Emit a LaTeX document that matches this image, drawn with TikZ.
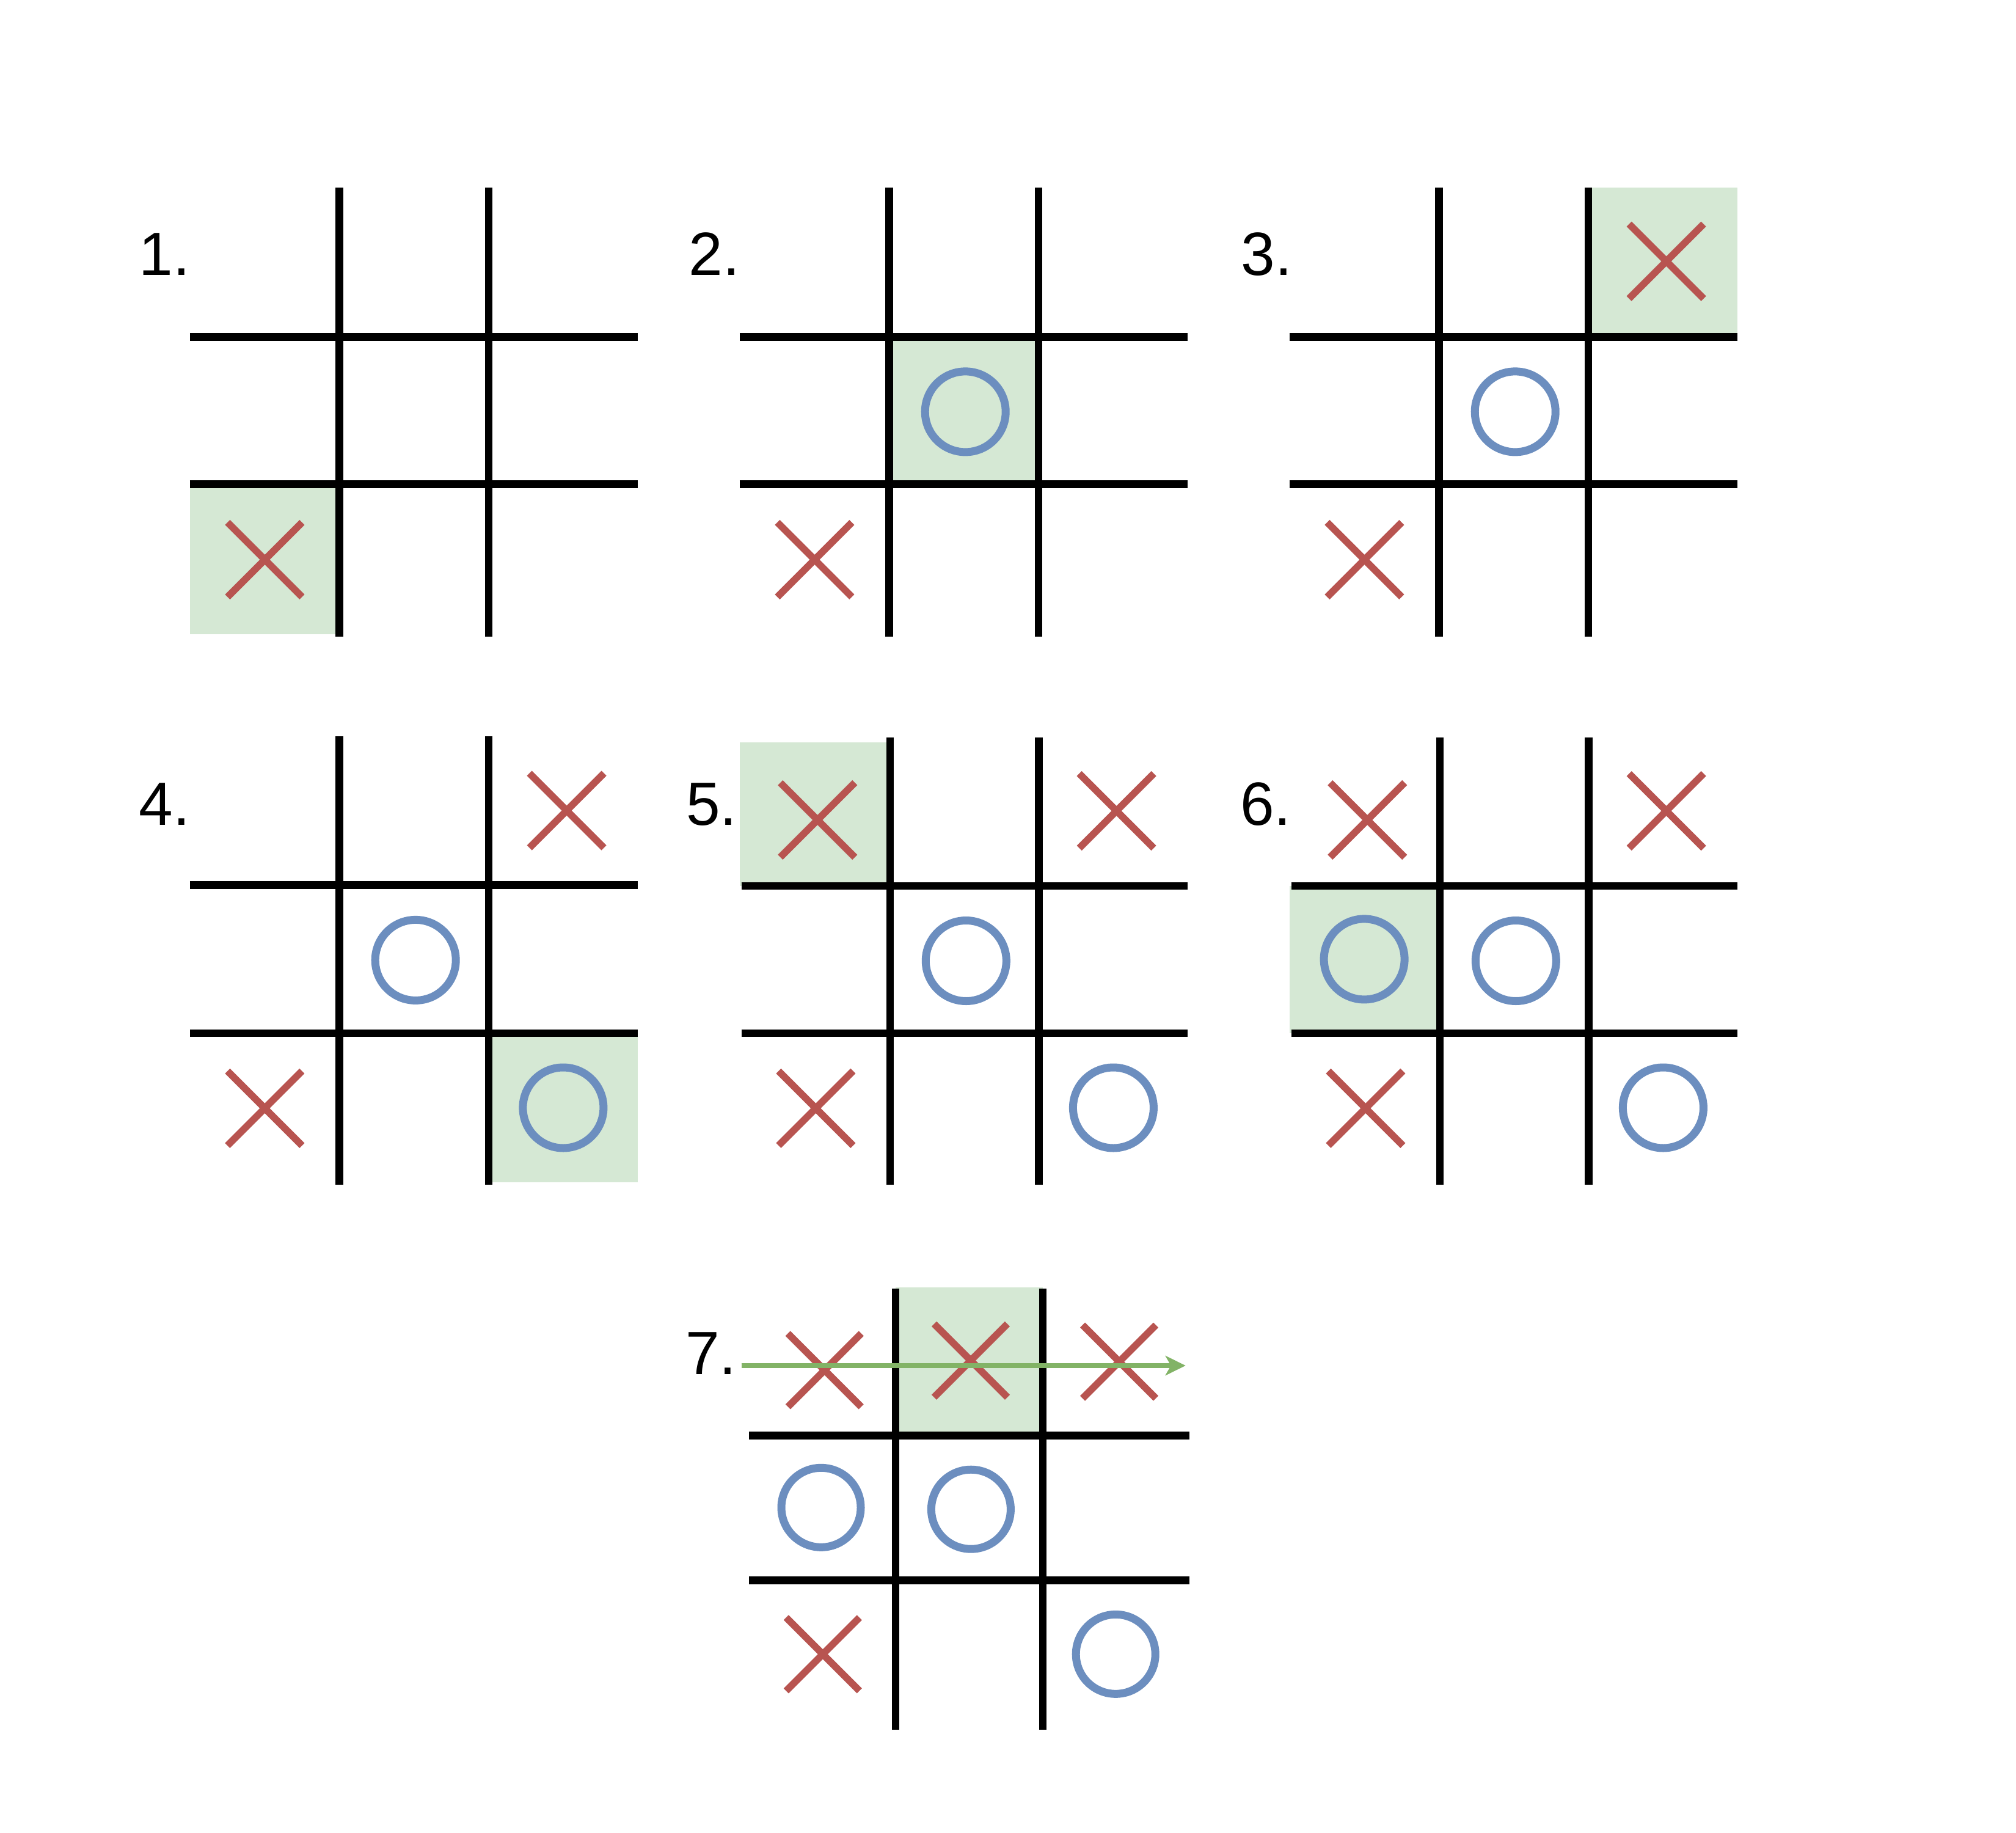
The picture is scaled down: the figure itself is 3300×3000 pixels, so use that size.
\documentclass[tikz,border=0pt]{standalone}
\usepackage{fontspec}
\setmainfont{Liberation Sans}
\usetikzlibrary{arrows.meta,shapes.misc}
\definecolor{xred}{HTML}{B85450}
\definecolor{oblue}{HTML}{6C8EBF}
\definecolor{gfill}{HTML}{D5E8D4}
\definecolor{garrow}{HTML}{82B366}
\tikzset{
  gridline/.style={draw=black, line width=1.25mm, line cap=butt},
  gcell/.style={fill=gfill},
  xmk/.style={cross out, draw=xred, line width=1.15mm, minimum size=12.2mm, inner sep=0pt, outer sep=0pt},
  xmks/.style={xmk, minimum size=12mm},
  omk/.style={circle, draw=oblue, line width=1.3mm, minimum size=13.2mm, inner sep=0pt},
  omks/.style={omk, minimum size=13mm},
  lbl/.style={inner sep=0pt, outer sep=0pt, font=\fontsize{28.45}{34}\selectfont, anchor=base east},
  winarrow/.style={draw=garrow, line width=0.75mm, -{Stealth[length=3.3mm, width=3.2mm, inset=0.9mm]}}
}
% L V1 V2 R T H1 H2 B
\newcommand{\tttboard}[8]{%
  \draw[gridline] (#2,#5) -- (#2,#8);
  \draw[gridline] (#3,#5) -- (#3,#8);
  \draw[gridline] (#1,#6) -- (#4,#6);
  \draw[gridline] (#1,#7) -- (#4,#7);
}
\begin{document}
\begin{tikzpicture}[x=0.1mm, y=-0.1mm]
\useasboundingbox (0,0) rectangle (3300,3000);
\fill[white] (0,0) rectangle (3300,3000);

% green highlight cells
\fill[gcell] (310.8,792.5) rectangle (555.3,1038);
\fill[gcell] (1455.3,551.4) rectangle (1699.9,792.5);
\fill[gcell] (2599.9,307.4) rectangle (2843.9,551.4);
\fill[gcell] (799.9,1690.8) rectangle (1043.9,1935.3);
\fill[gcell] (1210.8,1215) rectangle (1457,1450.2);
\fill[gcell] (2110.8,1450.2) rectangle (2357,1690.8);
\fill[gcell] (1466.2,2107.4) rectangle (1706.8,2349.7);

% grids
\tttboard{310.8}{555.3}{799.9}{1043.9}{307.4}{551.4}{792.5}{1042.2}
\tttboard{1210.8}{1455.3}{1699.9}{1943.9}{307.4}{551.4}{792.5}{1042.2}
\tttboard{2110.8}{2355.3}{2599.9}{2843.9}{307.4}{551.4}{792.5}{1042.2}
\tttboard{310.8}{555.3}{799.9}{1043.9}{1204.5}{1448.5}{1690.8}{1939.3}
\tttboard{1213.7}{1457}{1700.5}{1943.9}{1207.4}{1450.2}{1690.8}{1939.3}
\tttboard{2113.7}{2357}{2600.5}{2843.9}{1207.4}{1450.2}{1690.8}{1939.3}
\tttboard{1226.3}{1466.2}{1706.8}{1946.7}{2109.1}{2349.7}{2586.7}{2830.7}

% labels
\node[lbl] (l1) at (311,450.9) {1.};
\node[lbl] (l2) at (1211,450.9) {2.};
\node[lbl] (l3) at (2115,450.9) {3.};
\node[lbl] (l4) at (311,1350.9) {4.};
\node[lbl] (l5) at (1206.6,1350.9) {5.};
\node[lbl] (l6) at (2113.5,1350.9) {6.};
\node[lbl] (l7) at (1205.4,2249.8) {7.};

% board 1
\node[xmk] (b1x1) at (433.4,916) {};
% board 2
\node[xmk] (b2x1) at (1333.4,916) {};
\node[omk] (b2o1) at (1580.2,673.9) {};
% board 3
\node[xmk] (b3x1) at (2233.4,916) {};
\node[omk] (b3o1) at (2480.2,673.9) {};
\node[xmk] (b3x2) at (2727.6,427.7) {};
% board 4
\node[xmk] (b4x1) at (433.4,1813.9) {};
\node[xmk] (b4x2) at (927.6,1326.6) {};
\node[omk] (b4o1) at (680.2,1571.4) {};
\node[omk] (b4o2) at (921.9,1813) {};
% board 5
\node[xmk] (b5x1) at (1335.4,1813.9) {};
\node[xmk] (b5x2) at (1827.6,1327.1) {};
\node[xmk] (b5x3) at (1338.3,1342) {};
\node[omk] (b5o1) at (1581.3,1572.5) {};
\node[omk] (b5o2) at (1822.4,1813) {};
% board 6
\node[xmk] (b6x1) at (2235.4,1813.9) {};
\node[xmk] (b6x2) at (2727.6,1327.1) {};
\node[xmk] (b6x3) at (2238.3,1342) {};
\node[omk] (b6o1) at (2481.3,1572.5) {};
\node[omk] (b6o2) at (2722.4,1813) {};
\node[omk] (b6o3) at (2233.1,1569.9) {};
% board 7
\node[xmks] (b7x1) at (1346.8,2707.3) {};
\node[xmks] (b7x2) at (1349.7,2242.4) {};
\node[xmks] (b7x3) at (1589,2226.8) {};
\node[xmks] (b7x4) at (1832,2228.6) {};
\node[omks] (b7o1) at (1344,2467.3) {};
\node[omks] (b7o2) at (1589.4,2470.2) {};
\node[omks] (b7o3) at (1826.2,2707.3) {};

% winning line
\coordinate (ws) at (1213.7,2235);
\coordinate (we) at (1940.7,2235);
\draw[winarrow] (ws) -- (we);
\end{tikzpicture}
\end{document}
